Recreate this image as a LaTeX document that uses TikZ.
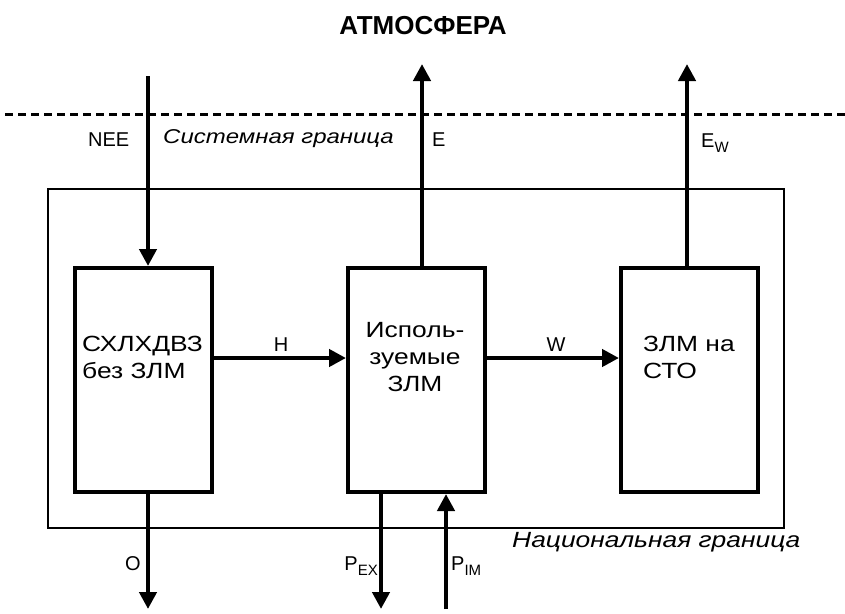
\documentclass[tikz,border=0pt]{standalone}
\usepackage{fontspec}
\setmainfont{Liberation Sans}
\newfontfamily\widefont{Liberation Sans}[FakeStretch=1.2]
\usetikzlibrary{arrows.meta}
\newcommand\lowsub[1]{\raisebox{-5pt}{\fontsize{15}{18}\selectfont #1}}
\begin{document}
\begin{tikzpicture}[x=1pt,y=-1pt,
  box/.style={draw,line width=4pt,minimum width=137pt,minimum height=224pt,inner sep=0pt},
  outer/.style={draw,line width=2.7pt},
  arr/.style={line width=4.5pt,-{Triangle[length=17pt,width=17pt]}},
  lbl/.style={font=\fontsize{20}{24}\selectfont,inner sep=0pt},
  btxt/.style={font=\widefont\fontsize{22}{27}\selectfont,inner sep=0pt},
  itxt/.style={font=\widefont\fontsize{20}{24}\selectfont\itshape,inner sep=0pt}]
\useasboundingbox (0,0) rectangle (845,613);
\node[font=\fontsize{26}{30}\selectfont\bfseries] (title) at (423,26) {АТМОСФЕРА};
\draw[line width=3pt,dash pattern=on 8pt off 5pt] (5,114) coordinate (dl) -- (845,114) coordinate (dr);
\node[outer,minimum width=736pt,minimum height=339pt,inner sep=0pt] (nat) at (416,358.5) {};
\node[box] (b1) at (143.5,380) {};
\node[box] (b2) at (416.5,380) {};
\node[box] (b3) at (689.5,380) {};
\node[btxt,anchor=west,align=left] (t1) at (82,357) {СХЛХДВЗ\\без ЗЛМ};
\node[btxt,align=center] (t2) at (415,357) {Исполь-\\зуемые\\ЗЛМ};
\node[btxt,anchor=west,align=left] (t3) at (643,357) {ЗЛМ на\\СТО};
% top arrows
\coordinate (nee) at (148,76);
\draw[arr] (nee) -- (nee |- b1.north);
\coordinate (eTop) at (422,64);
\draw[arr] (eTop |- b2.north) -- (eTop);
\coordinate (ewTop) at (687,64);
\draw[arr] (ewTop |- b3.north) -- (ewTop);
\node[lbl,anchor=west] (lnee) at (88,140) {NEE};
\node[itxt,anchor=west] (sys) at (163,139) {Системная граница};
\node[lbl,anchor=west] (le) at (432,140) {E};
\node[lbl,anchor=base west] (lew) at (701,147) {E\lowsub{W}};
% horizontal arrows
\draw[arr] (b1.east |- 0,358) -- (b2.west |- 0,358);
\node[lbl] (lh) at (281,345) {H};
\draw[arr] (b2.east |- 0,358) -- (b3.west |- 0,358);
\node[lbl] (lw) at (556,345) {W};
% bottom arrows
\coordinate (oBot) at (148,609);
\draw[arr] (oBot |- b1.south) -- (oBot);
\coordinate (pexBot) at (381,609);
\draw[arr] (pexBot |- b2.south) -- (pexBot);
\coordinate (pimBot) at (446,609);
\draw[arr] (pimBot) -- (pimBot |- b2.south);
\node[lbl] (lo) at (133,564) {O};
\node[lbl,anchor=base east] (lpex) at (378,570) {P\lowsub{EX}};
\node[lbl,anchor=base west] (lpim) at (451,570) {P\lowsub{IM}};
\node[itxt,anchor=west,font=\widefont\fontsize{22}{26}\selectfont\itshape] (natl) at (512,542) {Национальная граница};
\end{tikzpicture}
\end{document}
